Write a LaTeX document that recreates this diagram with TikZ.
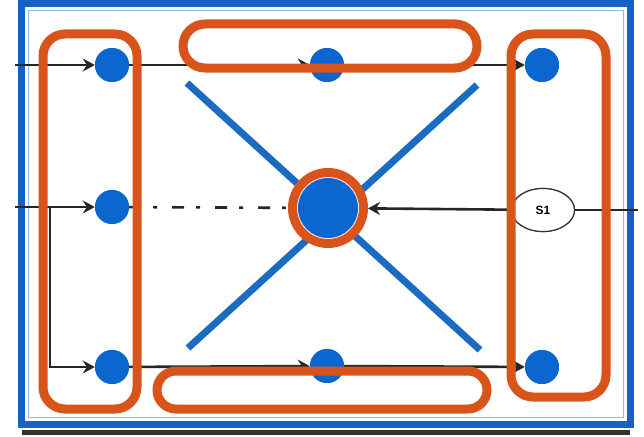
\documentclass[tikz,border=0pt]{standalone}
\usepackage{fontspec}
\setsansfont{Liberation Sans}
\usetikzlibrary{arrows.meta,shapes.geometric}
\definecolor{framebl}{HTML}{1462C6}
\definecolor{dotbl}{HTML}{0B66D0}
\definecolor{diagbl}{HTML}{1C6BC2}
\definecolor{grp}{HTML}{D9541A}
\tikzset{
  dot/.style={circle,fill=dotbl,minimum size=34pt,inner sep=0pt},
  link/.style={draw=black!85,line width=2.6pt,-{Stealth[length=12pt,width=13pt,inset=4pt]}},
  plain/.style={draw=black!85,line width=2.6pt},
  grpbox/.style={draw=grp,line width=9pt},
  diag/.style={draw=diagbl,line width=7pt},
  tagshape/.style={ellipse,draw=black!80,line width=1.2pt,fill=white,minimum width=63pt,minimum height=43pt,inner sep=0pt,font=\sffamily\bfseries\fontsize{12}{12}\selectfont},
}
\begin{document}
\begin{tikzpicture}[x=1pt,y=-1pt]
\useasboundingbox (0,0) rectangle (644,436);
% outer frame with its shadow
\draw[black!80,line width=5pt] (22,432) -- (630,432);
\fill[white] (21,4) rectangle (630,424);
\draw[framebl,line width=7pt] (21,4) rectangle (630,424);
\draw[framebl!45,line width=1pt] (28,11) rectangle (623,417);

% nodes
\node[dot] (tl) at (112,65) {};
\node[dot] (tm) at (327,65) {};
\node[dot] (tr) at (542,65) {};
\node[dot] (ml) at (112,207) {};
\node[dot] (bl) at (112,367) {};
\node[dot] (bm) at (327,366) {};
\node[dot] (br) at (542,367) {};
\node[circle,minimum size=71pt,inner sep=0pt,outer sep=4.5pt] (hub) at (328,208) {};
\node[tagshape] (s1) at (543,210) {S1};

\coordinate (inTop) at (15,65);
\coordinate (inMid) at (15,207);
\coordinate (split) at (50,207);
\coordinate (outR) at (638,210);
\coordinate (dA) at (187,83);
\coordinate (dB) at (480,350);
\coordinate (dC) at (477,85);
\coordinate (dD) at (188,348);

% cross through the hub
\draw[diag] (dA) -- (dB);
\draw[diag] (dC) -- (dD);

% connectors
\draw[link] (inTop) -- (tl);
\draw[link] (tl) -- (tm);
\draw[link] (tm) -- (tr);
\draw[link] (inMid) -- (ml);
\draw[link] (split) |- (bl);
\draw[link] (bl) -- (bm);
\draw[link] (bm) -- (br);
\draw[plain,dash pattern=on 12pt off 12pt on 4pt off 15pt] (ml) -- (hub);
\draw[plain] (outR) -- (s1);
\draw[link] (s1) -- (hub);
\node[tagshape] at (s1) {S1};

% hub
\fill[white] (hub.center) circle (32pt);
\fill[dotbl] (hub.center) circle (30pt);
\draw[grp,line width=9pt] (hub.center) circle (35.5pt);

% redraw dots over the cross
\foreach \n in {tl,tm,tr,ml,bl,bm,br} \fill[dotbl] (\n.center) circle (17pt);

% grouping outlines
\draw[grpbox,rounded corners=22pt] (43,34) rectangle (137,409);
\draw[grpbox,rounded corners=22pt] (511,34) rectangle (606,397);
\draw[grpbox,rounded corners=22pt] (183,24) rectangle (477,68);
\draw[grpbox,rounded corners=19pt] (157,371) rectangle (487,409);
\end{tikzpicture}
\end{document}
